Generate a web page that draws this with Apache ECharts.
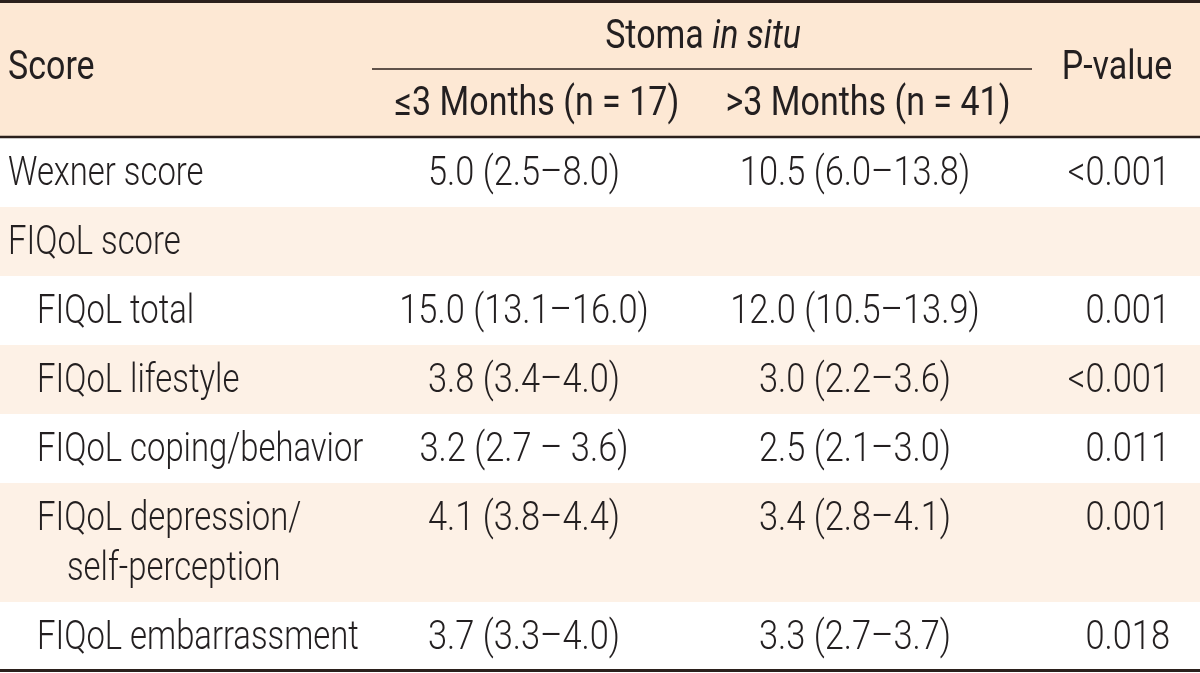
<!DOCTYPE html>
<html><head><meta charset="utf-8">
<script src="https://cdn.jsdelivr.net/npm/echarts@6/dist/echarts.min.js"></script>
<style>html,body{margin:0;padding:0;background:#fff}#c{width:1200px;height:673px}</style>
</head><body><div id="c"></div>
<script>
// ---- table content ----
const headerScore = 'Score';
const headerGroup = ['Stoma ', 'in situ'];
const headerCols = ['\u22643 Months (n = 17)', '>3 Months (n = 41)'];
const headerP = 'P-value';
const rowLabels = ['Wexner score', 'FIQoL score', 'FIQoL total', 'FIQoL lifestyle', 'FIQoL coping/behavior', 'FIQoL depression/\nself-perception', 'FIQoL embarrassment'];
const rowLevel = [0, 0, 1, 1, 1, 1, 1];
const shortStoma = ['5.0 (2.5\u20138.0)', '', '15.0 (13.1\u201316.0)', '3.8 (3.4\u20134.0)', '3.2 (2.7 \u2013 3.6)', '4.1 (3.8\u20134.4)', '3.7 (3.3\u20134.0)'];
const longStoma = ['10.5 (6.0\u201313.8)', '', '12.0 (10.5\u201313.9)', '3.0 (2.2\u20133.6)', '2.5 (2.1\u20133.0)', '3.4 (2.8\u20134.1)', '3.3 (2.7\u20133.7)'];
const pValues = ['<0.001', '', '0.001', '<0.001', '0.011', '0.001', '0.018'];

// ---- layout (styles) ----
const W = 1200, H = 673;
const HEADER_H = 138, ROW_H = 69, LINE_H = 50;
const FONT = 'Roboto, "DejaVu Sans Condensed", sans-serif';
const FS = 40;
const BODY = { w: 300, sx: 0.82 };
const NUM = { w: 300, sx: 0.86 };
const HEAD = { w: 400, sx: 0.85 };
const TXT = '#231f20', LINE = '#2b201c';
const HEAD_BG = '#fde8d4', STRIPE_BG = '#fdf1e6';
const X_LABEL = 8, INDENT = 29, CONT_INDENT = 30;
const X_C1 = 524, X_C2 = 855, X_P = 1170;
const DY = 2;

const tops = [];
let acc = HEADER_H;
rowLabels.forEach((l, i) => { tops.push(acc); acc += ROW_H + LINE_H * (l.split('\n').length - 1); });
const tableBottom = acc;

function txt(api, x, y, s, align, st) {
  const p = api.coord([x, y]);
  return { type: 'text', x: p[0], y: p[1], scaleX: st.sx, style: { text: s, x: 0, y: 0, fill: TXT, fontSize: FS, fontWeight: st.w, fontFamily: FONT, align: align, verticalAlign: 'middle' } };
}
function line(api, x1, y, x2, w) {
  const a = api.coord([x1, y]), b = api.coord([x2, y]);
  return { type: 'line', shape: { x1: a[0], y1: a[1], x2: b[0], y2: b[1] }, style: { stroke: LINE, lineWidth: w } };
}
function rect(api, y1, y2, color) {
  const a = api.coord([0, y1]), b = api.coord([W, y2]);
  return { type: 'rect', shape: { x: a[0], y: a[1], width: b[0] - a[0], height: b[1] - a[1] }, style: { fill: color } };
}

function renderHeader(params, api) {
  const ch = [];
  ch.push(rect(api, 0, HEADER_H, HEAD_BG));
  ch.push(line(api, 0, 1.5, W, 3));
  ch.push(line(api, 0, HEADER_H - 1, W, 2.5));
  ch.push(line(api, 372, 69, 1032, 1.6));
  ch.push(txt(api, X_LABEL, 69, headerScore, 'left', HEAD));
  const p = api.coord([703, 38]);
  const base = { fill: TXT, fontSize: FS, fontWeight: HEAD.w, fontFamily: FONT };
  ch.push({ type: 'text', x: p[0], y: p[1], scaleX: HEAD.sx, style: { text: '{n|' + headerGroup[0] + '}{i|' + headerGroup[1] + '}', x: 0, y: 0, align: 'center', verticalAlign: 'middle',
    rich: { n: base, i: Object.assign({ fontStyle: 'italic' }, base) } } });
  ch.push(txt(api, 537, 105, headerCols[0], 'center', HEAD));
  ch.push(txt(api, 868, 105, headerCols[1], 'center', HEAD));
  ch.push(txt(api, 1117, 69, headerP, 'center', HEAD));
  return { type: 'group', children: ch };
}

function renderRow(params, api) {
  const i = api.value(0);
  const top = tops[i];
  const lines = rowLabels[i].split('\n');
  const h = ROW_H + LINE_H * (lines.length - 1);
  const yc = top + ROW_H / 2 + DY;
  const ch = [];
  if (i % 2 === 1) ch.push(rect(api, top, top + h, STRIPE_BG));
  const xl = X_LABEL + rowLevel[i] * INDENT;
  lines.forEach((s, k) => ch.push(txt(api, xl + (k > 0 ? CONT_INDENT : 0), yc + k * LINE_H, s, 'left', BODY)));
  if (shortStoma[i]) ch.push(txt(api, X_C1, yc, shortStoma[i], 'center', NUM));
  if (longStoma[i]) ch.push(txt(api, X_C2, yc, longStoma[i], 'center', NUM));
  if (pValues[i]) ch.push(txt(api, X_P, yc, pValues[i], 'right', NUM));
  if (i === rowLabels.length - 1) ch.push(line(api, 0, tableBottom - 0.5, W, 3));
  return { type: 'group', children: ch };
}

const chart = echarts.init(document.getElementById('c'), null, { renderer: 'canvas' });
chart.setOption({
  animation: false,
  backgroundColor: '#ffffff',
  grid: { left: 0, right: 0, top: 0, bottom: 0 },
  xAxis: { type: 'value', min: 0, max: W, show: false },
  yAxis: { type: 'value', min: 0, max: H, inverse: true, show: false },
  series: [
    { type: 'custom', renderItem: renderRow, data: rowLabels.map((_, i) => [i]), encode: { x: -1, y: -1 }, clip: false, silent: true },
    { type: 'custom', renderItem: renderHeader, data: [[0]], encode: { x: -1, y: -1 }, clip: false, silent: true }
  ]
});
</script></body></html>
